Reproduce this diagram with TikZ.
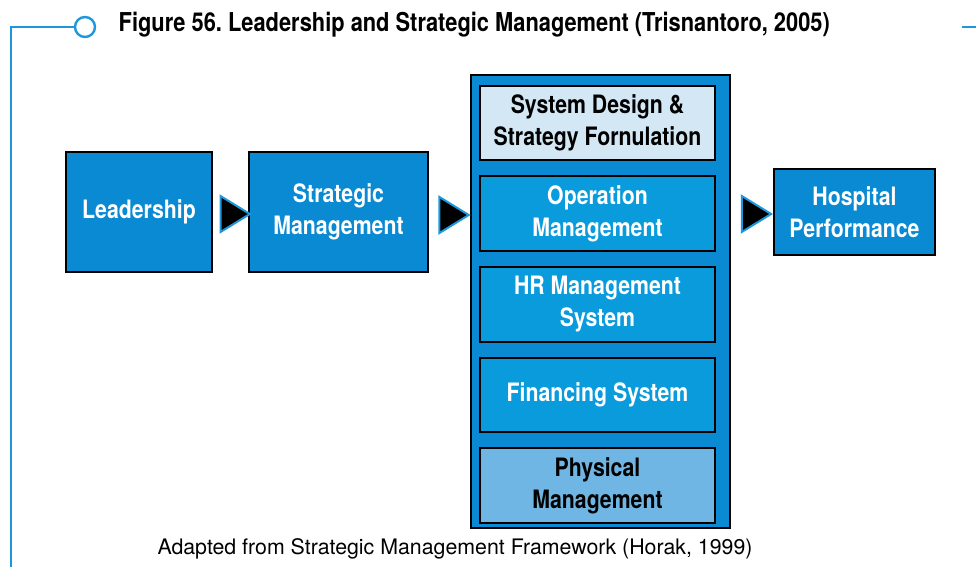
\documentclass[tikz,border=0pt]{standalone}
\usepackage{fontspec}
\setmainfont{TeX Gyre Heros}
\newfontfamily\condfont[FakeStretch=0.84]{TeX Gyre Heros}
\usepackage{xcolor}
\definecolor{boxblue}{HTML}{0A8AD2}
\definecolor{innerblue}{HTML}{0A9BDC}
\definecolor{paleblue}{HTML}{D4E7F5}
\definecolor{midblue}{HTML}{6FB6E5}
\definecolor{lineblue}{HTML}{1E96DC}
\usetikzlibrary{arrows.meta,positioning,shapes.geometric,calc}
\tikzset{
  blk/.style    = {rectangle, draw=black, line width=1.5pt, fill=boxblue,
                   text=white, align=center, inner sep=0pt,
                   font=\condfont\bfseries\fontsize{19}{24}\selectfont},
  sysbox/.style = {blk, fill=innerblue, minimum width=176pt, minimum height=56pt},
  hi/.style     = {fill=paleblue, text=black},
  lo/.style     = {fill=midblue, text=black},
  tri/.style    = {isosceles triangle, isosceles triangle stretches,
                   draw=lineblue, fill=black, line width=1.5pt, inner sep=0pt,
                   minimum width=27pt, minimum height=22pt},
  frame/.style  = {draw=lineblue, line width=1.8pt}
}
\frenchspacing
\begin{document}
\begin{tikzpicture}[x=0.75pt, y=-0.75pt]
  \useasboundingbox (0,0) rectangle (976,567);
  % title bar
  \coordinate (fb) at (11,567);
  \coordinate (ft) at (11,27);
  \node[frame, circle, fill=white, minimum size=15pt, inner sep=0pt] (dot) at (85,27) {};
  \draw[frame] (fb) -- (ft) -- (dot.west);
  \coordinate (rs) at (962,27);
  \coordinate (re) at (976,27);
  \draw[frame] (rs) -- (re);
  \node[anchor=west, font=\condfont\bfseries\fontsize{19.5}{23}\selectfont] (title) at (114,25)
    {Figure 56. Leadership and Strategic Management (Trisnantoro, 2005)};
  % main flow
  \node[blk, minimum width=109.5pt, minimum height=90pt] (lead) at (139,212) {Leadership};
  \node[blk, minimum width=134pt, minimum height=90pt] (strat) at (338.5,212) {Strategic\\Management};
  \node[blk, minimum width=194pt, minimum height=340pt] (sys) at (600.5,301.5) {};
  \node[sysbox, hi] (sd) at (597.5,123) {System Design \&\\Strategy Fornulation};
  \node[sysbox, below=10.5pt of sd] (op) {Operation\\Management};
  \node[sysbox, below=10.5pt of op] (hr) {HR Management\\System};
  \node[sysbox, below=10.5pt of hr] (fin) {Financing System};
  \node[sysbox, lo, below=10.5pt of fin] (phy) {Physical\\Management};
  \node[blk, minimum width=121pt, minimum height=64.5pt] (hosp) at (854.5,212) {Hospital\\Performance};
  % arrows
  \node[tri] (t1) at ($(lead.east)!0.5!(strat.west)+(0,2)$) {};
  \node[tri] (t2) at ($(strat.east)!0.5!(strat.east -| sys.west)+(0,3)$) {};
  \node[tri] (t3) at ($(hosp.west)!0.5!(hosp.west -| sys.east)+(0,2)$) {};
  % source
  \node[font=\fontsize{16}{19}\selectfont] (src) at (455,549)
    {Adapted from Strategic Management Framework (Horak, 1999)};
\end{tikzpicture}
\end{document}
